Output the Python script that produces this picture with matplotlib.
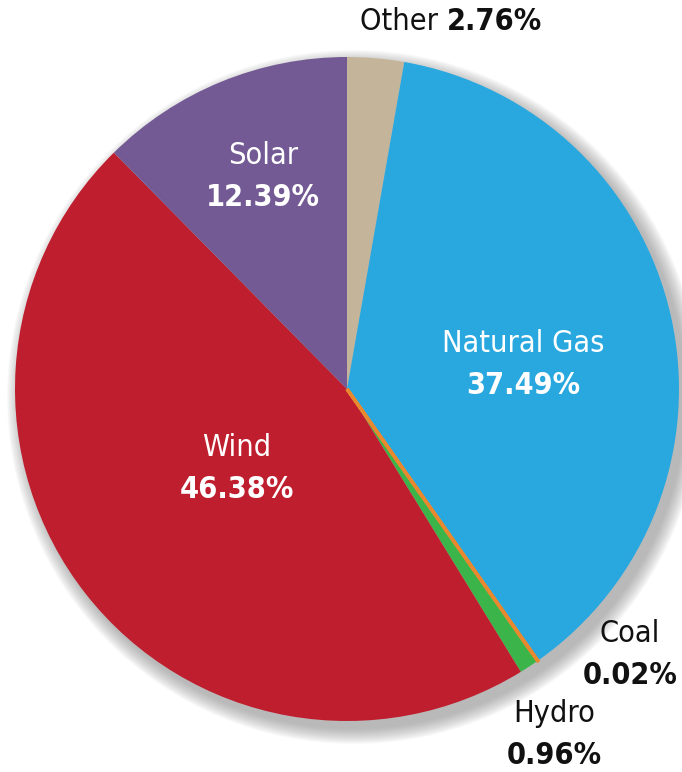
import matplotlib.pyplot as plt
from matplotlib.patches import Circle
from matplotlib import font_manager
import numpy as np

# Data (clockwise from 12 o'clock)
sources = ['Other', 'Natural Gas', 'Coal', 'Hydro', 'Wind', 'Solar']
shares = [2.76, 37.49, 0.02, 0.96, 46.38, 12.39]
colors = ['#c4b59a', '#29a8e0', '#e8892f', '#3bb54a', '#be1e2d', '#735a94']

# look for a narrow font, like the condensed one in the original
narrow = [f for f in font_manager.fontManager.ttflist
          if 'Narrow' in f.name or 'Condensed' in f.name
          or f.stretch in ('condensed', 'semi-condensed', 'extra-condensed')]
fam = [narrow[0].name, 'DejaVu Sans'] if narrow else ['Roboto', 'DejaVu Sans']
stretch = narrow[0].stretch if narrow else 'normal'

W, H = 682, 772
fig = plt.figure(figsize=(W / 100, H / 100), dpi=100)
ax = fig.add_axes([0, 0, 1, 1])

cx, cy, r = 347, 772 - 389, 332

# soft drop shadow to the lower right
for k in range(16):
    ax.add_patch(Circle((cx + 7, cy - 8), r + 15 - k, color='#808080',
                        alpha=0.045, lw=0, zorder=1))

wedges, _ = ax.pie(shares, colors=colors, startangle=90, counterclock=False,
                   center=(cx, cy), radius=r, frame=True,
                   wedgeprops=dict(linewidth=0, zorder=2))
# the coal slice is too thin to show, give it a stroke like the original
wedges[2].set_edgecolor(colors[2])
wedges[2].set_linewidth(2.5)
wedges[2].set_zorder(3)

ax.set_xlim(0, W)
ax.set_ylim(0, H)
ax.set_aspect('equal')
ax.axis('off')

fs = 22

def label(x, y, name, val, col):
    ax.text(x, H - y, name, color=col, fontsize=fs, family=fam, stretch=stretch,
            ha='center', va='center', zorder=5)
    ax.text(x, H - y - 42, val, color=col, fontsize=fs, family=fam, stretch=stretch,
            fontweight='bold', ha='center', va='center', zorder=5)

label(263, 155, 'Solar', '12.39%', 'white')
label(523, 343, 'Natural Gas', '37.49%', 'white')
label(237, 447, 'Wind', '46.38%', 'white')
label(630, 633, 'Coal', '0.02%', '#111111')
label(554, 714, 'Hydro', '0.96%', '#111111')

ax.text(447, H - 22, 'Other ', color='#111111', fontsize=fs, family=fam,
        stretch=stretch, ha='right', va='center')
ax.text(447, H - 22, '2.76%', color='#111111', fontsize=fs, family=fam,
        stretch=stretch, fontweight='bold', ha='left', va='center')

fig.savefig('out.png', dpi=100)
